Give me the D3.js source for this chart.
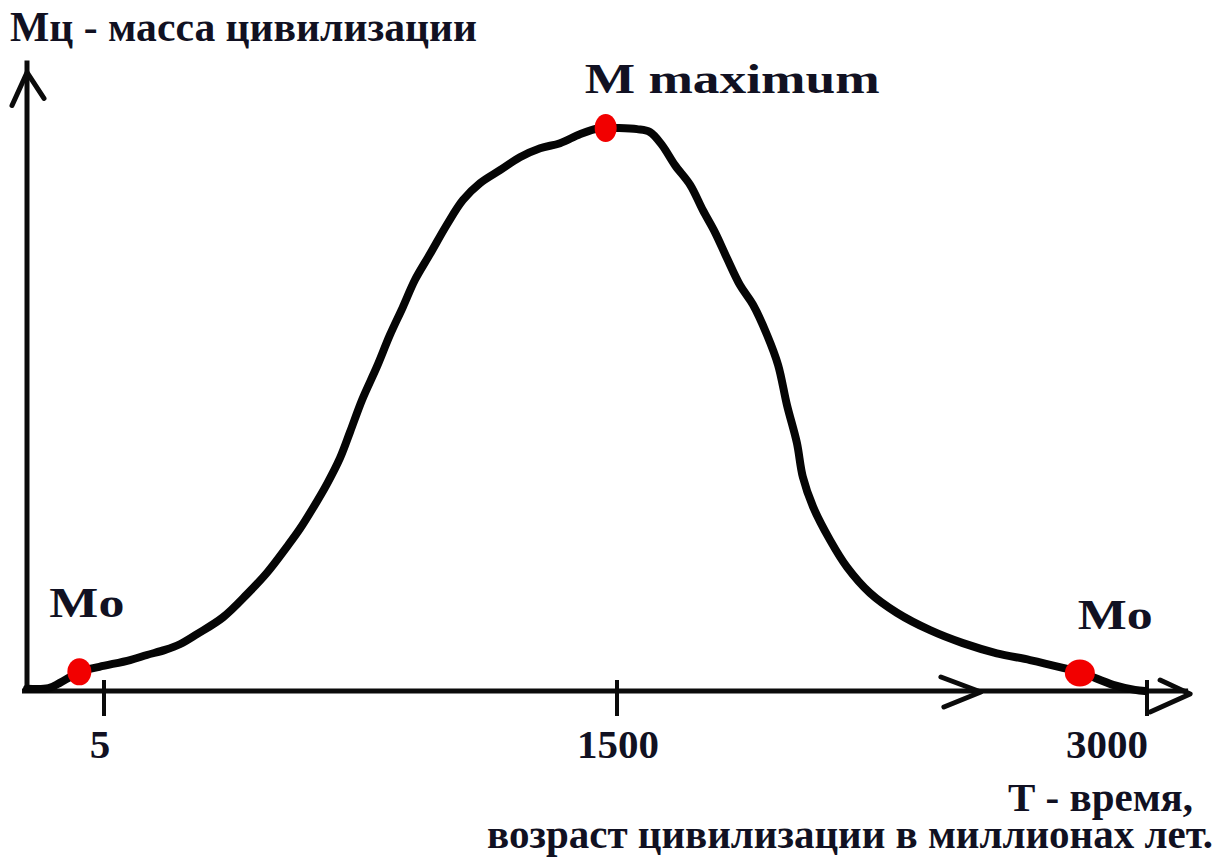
<!DOCTYPE html>
<html lang="ru">
<head>
<meta charset="utf-8">
<title>Масса цивилизации</title>
<script src="https://cdn.jsdelivr.net/npm/d3@7"></script>
<style>
  html, body { margin: 0; padding: 0; background: #ffffff; }
  svg { display: block; }
  text { font-family: "Liberation Serif", "Times New Roman", serif; font-weight: bold; fill: #111122; }
</style>
</head>
<body>
<svg id="chart" width="1224" height="861"></svg>
<script>
// Time, millions of years
const timeValues = [0, 1.4, 2.1, 2.8, 3.4, 4.7, 81, 130, 183, 226, 276, 352, 422, 480, 538, 576,
  614, 655, 693, 722, 757, 801, 838, 876, 911, 955, 1005, 1051, 1101, 1159, 1217, 1276, 1334,
  1392, 1450, 1500, 1557, 1593, 1627, 1664, 1707, 1743, 1777, 1811, 1848, 1885, 1925, 1956,
  1981, 2009, 2026, 2055, 2103, 2151, 2216, 2292, 2386, 2479, 2575, 2669, 2762, 2816, 2904,
  2966, 2994];
// Mass of civilization, percent of the maximum
const massValues = [0.4, 0.5, 1.4, 2.5, 3.4, 4.3, 5.5, 6.4, 7.3, 8.3, 10.1, 13.1, 17.2, 21.0,
  25.6, 28.8, 32.5, 36.8, 41.4, 46.0, 51.7, 57.7, 63.2, 68.2, 73.0, 77.6, 82.9, 87.2, 90.2,
  92.5, 94.8, 96.4, 97.3, 98.9, 100, 100, 99.8, 99.3, 97.0, 93.4, 89.9, 85.4, 81.5, 76.9, 72.1,
  68.6, 63.2, 57.9, 50.8, 44.1, 38.0, 32.7, 26.8, 22.0, 17.4, 13.9, 10.8, 8.5, 6.7, 5.5, 4.1,
  3.2, 1.1, 0.2, 0];

// Highlighted points
const markerLabels = ["Mo", "M maximum", "Mo"];
const markerTime = [3.4, 1467, 2810];
const markerMass = [3.4, 100, 3.2];

// Axis ticks
const tickValues = [5, 1500, 3000];
const tickLabels = ["5", "1500", "3000"];

// Titles
const yTitle = "Мц - масса цивилизации";
const xTitle = ["Т - время,", "возраст цивилизации в миллионах лет."];

const svg = d3.select("#chart");

// Hand-drawn axis: the origin and the first tick are stretched apart
const x = d3.scaleLinear().domain([0, 5, 1500, 3000]).range([27, 104, 617, 1147]);
const y = d3.scaleLinear().domain([0, 100]).range([691, 128]);

const ink = "#0b0b0b";
const axisTop = y(112);
const axisRight = x(3122);
const axisLeft = x(0) - 5;

// Y axis with arrow
svg.append("line")
  .attr("x1", x(0)).attr("x2", x(0))
  .attr("y1", y(0) + 2).attr("y2", axisTop)
  .attr("stroke", ink).attr("stroke-width", 5);
svg.append("path")
  .attr("d", d3.line()([[x(0) - 15, axisTop + 45], [x(0), axisTop + 12], [x(0) + 17, axisTop + 38]]))
  .attr("fill", "none").attr("stroke", ink).attr("stroke-width", 5)
  .attr("stroke-linecap", "round").attr("stroke-linejoin", "round");

// X axis with two arrowheads
svg.append("line")
  .attr("x1", axisLeft).attr("x2", axisRight - 2)
  .attr("y1", y(0)).attr("y2", y(0))
  .attr("stroke", ink).attr("stroke-width", 5);

const midArrow = x(2530);
svg.append("path")
  .attr("d", d3.line()([[midArrow - 40, y(0) - 14], [midArrow, y(0) + 1], [midArrow - 37, y(0) + 16]]))
  .attr("fill", "none").attr("stroke", ink).attr("stroke-width", 5)
  .attr("stroke-linecap", "round").attr("stroke-linejoin", "round");
svg.append("path")
  .attr("d", d3.line()([[axisRight - 30, y(0) - 11], [axisRight, y(0) + 3], [axisRight - 40, y(0) + 21]]))
  .attr("fill", "none").attr("stroke", ink).attr("stroke-width", 5)
  .attr("stroke-linecap", "round").attr("stroke-linejoin", "round");

// Tick marks
svg.append("g").selectAll("line")
  .data(tickValues)
  .join("line")
  .attr("x1", d => x(d)).attr("x2", d => x(d))
  .attr("y1", y(0) - 11).attr("y2", y(0) + 25)
  .attr("stroke", ink).attr("stroke-width", 4);

// Tick labels
const tickAnchor = ["middle", "middle", "end"];
const tickShift = [-4, 1, 1];
svg.append("g").selectAll("text")
  .data(tickValues)
  .join("text")
  .attr("x", (d, i) => x(d) + tickShift[i])
  .attr("y", y(0) + 67)
  .attr("text-anchor", (d, i) => tickAnchor[i])
  .attr("font-size", 41)
  .text((d, i) => tickLabels[i]);

// The curve
const idx = d3.range(timeValues.length);
svg.append("path")
  .attr("d", d3.line()
    .x(i => x(timeValues[i]))
    .y(i => y(massValues[i]))
    .curve(d3.curveCatmullRom.alpha(0.5))(idx))
  .attr("fill", "none")
  .attr("stroke", "#050505")
  .attr("stroke-width", 8)
  .attr("stroke-linejoin", "round")
  .attr("stroke-linecap", "round");

// Red markers
const dotRx = [12, 11, 15];
const dotRy = [13.5, 14, 13.5];
svg.append("g").selectAll("ellipse")
  .data(markerTime)
  .join("ellipse")
  .attr("cx", d => x(d))
  .attr("cy", (d, i) => y(markerMass[i]))
  .attr("rx", (d, i) => dotRx[i])
  .attr("ry", (d, i) => dotRy[i])
  .attr("fill", "#f20000");

// Marker labels
const labelDx = [-30, -21, -2];
const labelDy = [-55, -35, -44];
const labelWidth = [75, 295, 75];
svg.append("g").selectAll("text")
  .data(markerTime)
  .join("text")
  .attr("x", (d, i) => x(d) + labelDx[i])
  .attr("y", (d, i) => y(markerMass[i]) + labelDy[i])
  .attr("font-size", 42)
  .attr("textLength", (d, i) => labelWidth[i])
  .attr("lengthAdjust", "spacingAndGlyphs")
  .text((d, i) => markerLabels[i]);

// Axis titles
svg.append("text")
  .attr("x", 10).attr("y", 41)
  .attr("font-size", 42)
  .attr("textLength", 467)
  .attr("lengthAdjust", "spacingAndGlyphs")
  .text(yTitle);

svg.append("text")
  .attr("x", 1193).attr("y", 811)
  .attr("text-anchor", "end")
  .attr("font-size", 41)
  .text(xTitle[0]);

svg.append("text")
  .attr("x", 1213).attr("y", 848)
  .attr("text-anchor", "end")
  .attr("font-size", 41)
  .text(xTitle[1]);
</script>
</body>
</html>
